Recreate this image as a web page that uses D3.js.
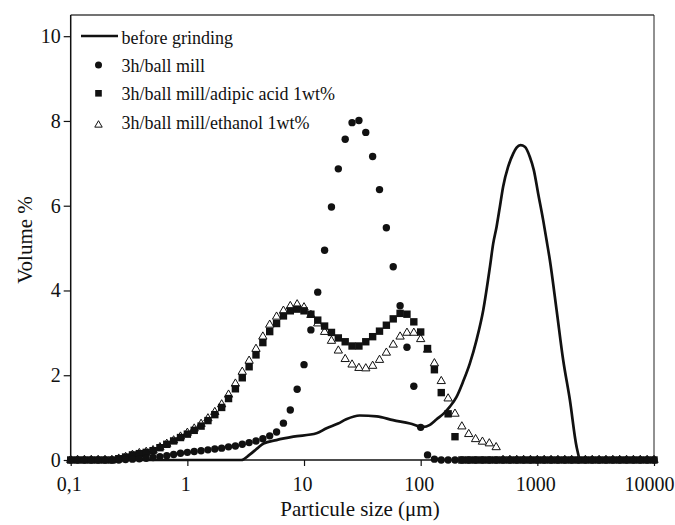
<!DOCTYPE html>
<html><head><meta charset="utf-8">
<script src="https://cdn.jsdelivr.net/npm/d3@7"></script>
<style>body{margin:0;background:#fff}svg{display:block}text{font-family:"Liberation Serif","DejaVu Serif",serif}</style>
</head><body>
<svg id="c" width="675" height="525"></svg>
<script>
// particle-size channels (µm), 17 per decade
const sizes = [0.1,0.1145,0.1311,0.1501,0.1719,0.1968,0.2254,0.2581,0.2955,0.3384,0.3875,0.4437,0.508,0.5817,0.6661,0.7627,0.8733,
  1,1.145,1.311,1.501,1.719,1.968,2.254,2.581,2.955,3.384,3.875,4.437,5.08,5.817,6.661,7.627,8.733,
  10,11.45,13.11,15.01,17.19,19.68,22.54,25.81,29.55,33.84,38.75,44.37,50.8,58.17,66.61,76.27,87.33,
  100,114.5,131.1,150.1,171.9,196.8,225.4,258.1,295.5,338.4,387.5,443.7,508,581.7,666.1,762.7,873.3,
  1000,1145,1311,1501,1719,1968,2254,2581,2955,3384,3875,4437,5080,5817,6661,7627,8733,10000];

const ballMill = [0,0,0,0,0,0,0,0,0.01,
  0.02,0.03,0.04,0.06,0.08,0.1,0.13,0.16,
  0.18,0.2,0.22,0.24,0.26,0.28,0.31,0.33,
  0.37,0.41,0.45,0.5,0.57,0.66,0.87,1.18,1.67,
  2.25,3.07,3.96,4.95,5.97,6.87,7.57,7.96,8.01,
  7.73,7.16,6.38,5.48,4.56,3.64,2.66,1.74,0.77,0.12,0.02,
  0,0,0,0,0,0,0,0,0,0,0,0,0,0,0,0,0,0,0,0,0,0,0,0,0,0,0,0,0,0,0,0];

const adipic = [0,0,0,0,0,0,0,
  0.03,0.07,0.12,0.15,0.18,0.22,0.29,0.37,0.45,0.53,
  0.61,0.7,0.8,0.93,1.07,1.24,1.45,1.68,1.94,2.2,
  2.48,2.77,3.03,3.22,3.4,3.52,3.56,3.52,3.44,3.3,
  3.16,3.01,2.88,2.79,2.69,2.69,2.79,2.91,3.04,3.18,
  3.33,3.46,3.44,3.26,3.02,2.63,2.13,1.59,1.09,0.55,
  0,0,0,0,0,0,0,0,0,0,0,0,0,0,0,0,0,0,0,0,0,0,0,0,0,0,0,0,0];

const ethanol = [0,0,0,0,0,0,0,
  0.03,0.07,0.12,0.16,0.19,0.23,0.3,0.38,0.46,0.55,
  0.64,0.74,0.85,0.98,1.13,1.31,1.54,1.8,2.08,2.34,
  2.62,2.91,3.19,3.38,3.52,3.63,3.67,3.6,3.42,3.22,
  3.02,2.81,2.58,2.38,2.25,2.17,2.16,2.22,2.36,2.53,
  2.72,2.91,3.0,3.0,2.85,2.6,2.28,1.86,1.45,1.09,
  0.79,0.61,0.49,0.43,0.39,0.3,
  0,0,0,0,0,0,0,0,0,0,0,0,0,0,0,0,0,0,0,0,0,0,0];

const beforeSizes = [0.1,2.9,3.4,4.0,4.5,5.8,8.1,12.8,15.6,19.6,23,30,42,58,81,105,120,137,158,178,203,231,264,301,344,392,418,447,477,509,562,621,664,718,781,863,933,1016,1122,1199,1280,1462,1665,1900,2170,2360,10000];
const beforeValues = [0,0,0.12,0.28,0.39,0.47,0.55,0.63,0.75,0.86,0.96,1.05,1.03,0.94,0.86,0.78,0.83,0.96,1.1,1.26,1.49,1.85,2.28,2.83,3.54,4.55,5.1,5.5,5.97,6.45,6.92,7.23,7.37,7.43,7.39,7.15,6.84,6.29,5.66,5.19,4.72,3.54,2.36,1.42,0.31,0,0];

const xTicks = [0.1,1,10,100,1000,10000];
const xTickLabels = ["0,1","1","10","100","1000","10000"];
const yTicks = [0,2,4,6,8,10];
const seriesNames = ["before grinding","3h/ball mill","3h/ball mill/adipic acid 1wt%","3h/ball mill/ethanol 1wt%"];
const xTitle = "Particule size (\u03bcm)";
const yTitle = "Volume %";

const svg = d3.select("#c");
const L = 70.7, R = 654, T = 15, B = 460;
const x = d3.scaleLog().domain([0.1, 10000]).range([L, R]);
const y = d3.scaleLinear().domain([0, 10.5]).range([B, T]);
const ink = "#111";
const font = "Liberation Serif";

// frame
svg.append("line").attr("x1",L).attr("x2",R).attr("y1",T).attr("y2",T).attr("stroke","#444").attr("stroke-width",1.3);
svg.append("line").attr("x1",R).attr("x2",R).attr("y1",T).attr("y2",B).attr("stroke","#222").attr("stroke-width",1);

// axes
const xAxis = svg.append("g").attr("transform",`translate(0,${B})`)
  .call(d3.axisBottom(x).tickValues(xTicks).tickFormat((d,i)=>xTickLabels[i]).tickSize(6).tickPadding(11).tickSizeOuter(0));
const yAxis = svg.append("g").attr("transform",`translate(${L},0)`)
  .call(d3.axisLeft(y).tickValues(yTicks).tickFormat(d3.format("d")).tickSize(7).tickPadding(3).tickSizeOuter(0));
[xAxis,yAxis].forEach(g=>{
  g.attr("font-family",font).attr("font-size",20);
  g.select(".domain").attr("stroke",ink).attr("stroke-width",1.5);
  g.selectAll(".tick line").attr("stroke",ink).attr("stroke-width",1.2);
  g.selectAll("text").attr("fill",ink).attr("font-family",font).attr("font-size",20);
});
xAxis.selectAll("text").attr("dx",(d,i)=> i === xTicks.length-1 ? "-5" : "-2");
yAxis.select(".domain").attr("d",`M0,${B}V${T}`);
xAxis.select(".domain").attr("d",`M${L},0H${R}`);

// axis titles
svg.append("text").attr("x",360).attr("y",516).attr("text-anchor","middle")
  .attr("font-family",font).attr("font-size",21).attr("fill",ink).text(xTitle);
svg.append("text").attr("transform","translate(32,240) rotate(-90)").attr("text-anchor","middle")
  .attr("font-family",font).attr("font-size",21).attr("fill",ink).text(yTitle);

// before grinding line
const lineData = beforeSizes.map((s,i)=>[s,beforeValues[i]]);
svg.append("path").datum(lineData)
  .attr("d", d3.line().x(d=>x(d[0])).y(d=>y(d[1])).curve(d3.curveMonotoneX))
  .attr("fill","none").attr("stroke",ink).attr("stroke-width",2.7).attr("stroke-linejoin","round");

const tri = d3.symbol().type(d3.symbolTriangle).size(30);
// ethanol (open triangles)
svg.append("g").selectAll("path").data(sizes.map((s,i)=>[s,ethanol[i]])).join("path")
  .attr("d",tri).attr("transform",d=>`translate(${x(d[0])},${y(d[1])})`)
  .attr("fill","#fff").attr("stroke",ink).attr("stroke-width",1);
// adipic (filled squares)
const sq = 7.4;
svg.append("g").selectAll("rect").data(sizes.map((s,i)=>[s,adipic[i]])).join("rect")
  .attr("x",d=>x(d[0])-sq/2).attr("y",d=>y(d[1])-sq/2).attr("width",sq).attr("height",sq).attr("fill",ink);
// ball mill (filled circles)
svg.append("g").selectAll("circle").data(sizes.map((s,i)=>[s,ballMill[i]])).join("circle")
  .attr("cx",d=>x(d[0])).attr("cy",d=>y(d[1])).attr("r",3.7).attr("fill",ink);

// legend
const lg = svg.append("g");
const lx = 121.5, base = [43.5, 72, 100, 128.5];
lg.append("line").attr("x1",81).attr("x2",118).attr("y1",36).attr("y2",36).attr("stroke",ink).attr("stroke-width",2.7);
lg.append("circle").attr("cx",98.5).attr("cy",65).attr("r",3.5).attr("fill",ink);
lg.append("rect").attr("x",98.5-3.3).attr("y",93.3-3.3).attr("width",6.6).attr("height",6.6).attr("fill",ink);
lg.append("path").attr("d",d3.symbol().type(d3.symbolTriangle).size(24)).attr("transform","translate(98.5,125)").attr("fill","#fff").attr("stroke",ink).attr("stroke-width",1);
seriesNames.forEach((n,i)=>{
  lg.append("text").attr("x",lx).attr("y",base[i]).attr("font-family",font).attr("font-size",18).attr("fill",ink).text(n);
});
</script>
</body></html>
